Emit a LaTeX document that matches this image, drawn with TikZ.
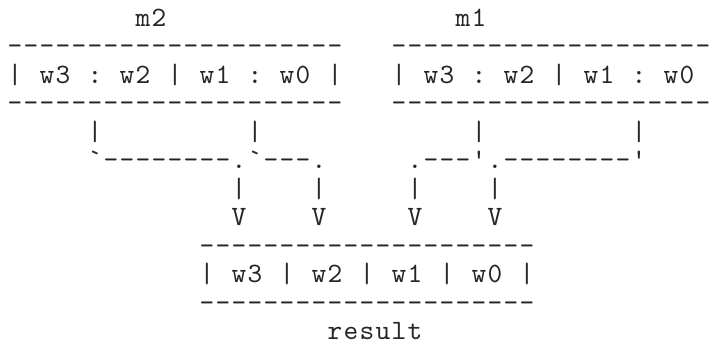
\documentclass[tikz,border=0pt]{standalone}
\usepackage{fontspec}
\setmonofont{lmmono10-regular.otf}
\ExplSyntaxOn
\NewDocumentCommand\asctext{m}{\str_map_inline:nn{#1}{\makebox[16pt]{##1}}}
\ExplSyntaxOff
\tikzset{asc/.style={anchor=base west, inner sep=0pt, outer sep=0pt, text=black!85,
  font=\ttfamily\fontsize{28}{28}\selectfont}}
\begin{document}
\begin{tikzpicture}[x=1pt,y=1pt]
\useasboundingbox (0,0) rectangle (715,-351);
% row 0
\node[asc] (mtwo) at (135,-26) {\asctext{m2}};
\node[asc] (mone) at (455,-26) {\asctext{m1}};
% rows 1-3: operand boxes
\node[asc] (ltop) at (7,-54.5) {\asctext{---------------------}};
\node[asc] (rtop) at (391,-54.5) {\asctext{--------------------}};
\node[asc] (lbox) at (7,-83) {\asctext{| w3 : w2 | w1 : w0 |}};
\node[asc] (rbox) at (391,-83) {\asctext{| w3 : w2 | w1 : w0}};
\node[asc] (lbot) at (7,-111.5) {\asctext{---------------------}};
\node[asc] (rbot) at (391,-111.5) {\asctext{--------------------}};
% row 4
\node[asc] (va) at (87,-140) {\asctext{|}};
\node[asc] (vb) at (247,-140) {\asctext{|}};
\node[asc] (vc) at (471,-140) {\asctext{|}};
\node[asc] (vd) at (631,-140) {\asctext{|}};
% row 5
\node[asc] (lroute) at (87,-168.5) {\asctext{`--------.`---.}};
\node[asc] (rroute) at (407,-168.5) {\asctext{.---'.--------'}};
% row 6
\node[asc] (wa) at (231,-197) {\asctext{|}};
\node[asc] (wb) at (311,-197) {\asctext{|}};
\node[asc] (wc) at (407,-197) {\asctext{|}};
\node[asc] (wd) at (487,-197) {\asctext{|}};
% row 7
\node[asc] (aa) at (231,-225.5) {\asctext{V}};
\node[asc] (ab) at (311,-225.5) {\asctext{V}};
\node[asc] (ac) at (407,-225.5) {\asctext{V}};
\node[asc] (ad) at (487,-225.5) {\asctext{V}};
% rows 8-10: result box
\node[asc] (otop) at (199,-254) {\asctext{---------------------}};
\node[asc] (obox) at (199,-282.5) {\asctext{| w3 | w2 | w1 | w0 |}};
\node[asc] (obot) at (199,-311) {\asctext{---------------------}};
% row 11
\node[asc] (res) at (327,-339.5) {\asctext{result}};
\end{tikzpicture}
\end{document}
